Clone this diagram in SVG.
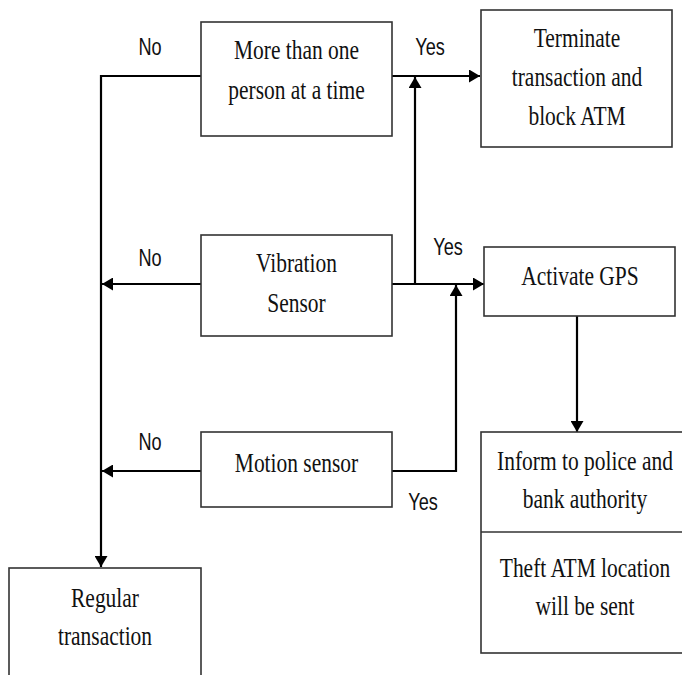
<svg xmlns="http://www.w3.org/2000/svg" width="682" height="675" viewBox="0 0 682 675">
<style>
.box{fill:#fff;stroke:#333;stroke-width:1.6}
.t{font-family:"Liberation Serif","Times New Roman",serif;font-size:26.5px;fill:#111;text-anchor:middle}
.l{font-family:"Liberation Sans",Arial,sans-serif;font-size:24.5px;fill:#111;text-anchor:middle}
.c{fill:none;stroke:#000;stroke-width:2.2}
</style>
<defs>
<marker id="ah" markerUnits="userSpaceOnUse" markerWidth="12" markerHeight="13" refX="11" refY="6.5" orient="auto">
<path d="M0,0 L11,6.5 L0,13 z" fill="#000"/>
</marker>
</defs>
<rect width="682" height="675" fill="#fff"/>
<g id="connectors">
<path class="c" d="M201,76 H101 V567" marker-end="url(#ah)"/>
<path class="c" d="M201,284 H102" marker-end="url(#ah)"/>
<path class="c" d="M201,471 H102" marker-end="url(#ah)"/>
<path class="c" d="M392,76 H480" marker-end="url(#ah)"/>
<path class="c" d="M392,284 H484" marker-end="url(#ah)"/>
<path class="c" d="M415,284 V77" marker-end="url(#ah)"/>
<path class="c" d="M392,471 H456 V285" marker-end="url(#ah)"/>
<path class="c" d="M577,316 V432" marker-end="url(#ah)"/>
</g>
<g id="labels">
<text class="l" transform="translate(150,55) scale(0.74,1)">No</text>
<text class="l" transform="translate(430,55) scale(0.74,1)">Yes</text>
<text class="l" transform="translate(150,266) scale(0.74,1)">No</text>
<text class="l" transform="translate(448,255) scale(0.74,1)">Yes</text>
<text class="l" transform="translate(150,450) scale(0.74,1)">No</text>
<text class="l" transform="translate(423,510) scale(0.74,1)">Yes</text>
</g>
<g id="n-more">
<rect class="box" x="201" y="22" width="191" height="114"/>
<text class="t" transform="translate(296.5,59) scale(0.81,1)">More than one</text>
<text class="t" transform="translate(296.5,99) scale(0.81,1)">person at a time</text>
</g>
<g id="n-terminate">
<rect class="box" x="481" y="10" width="191" height="137"/>
<text class="t" transform="translate(577,47) scale(0.81,1)">Terminate</text>
<text class="t" transform="translate(577,86) scale(0.81,1)">transaction and</text>
<text class="t" transform="translate(577,125) scale(0.81,1)">block ATM</text>
</g>
<g id="n-vibration">
<rect class="box" x="201" y="235" width="191" height="101"/>
<text class="t" transform="translate(296.5,272) scale(0.81,1)">Vibration</text>
<text class="t" transform="translate(296.5,312) scale(0.81,1)">Sensor</text>
</g>
<g id="n-gps">
<rect class="box" x="484" y="247" width="191" height="69"/>
<text class="t" transform="translate(580,285) scale(0.81,1)">Activate GPS</text>
</g>
<g id="n-motion">
<rect class="box" x="201" y="432" width="191" height="75"/>
<text class="t" transform="translate(296.5,472) scale(0.81,1)">Motion sensor</text>
</g>
<g id="n-inform">
<rect class="box" x="481" y="432" width="210" height="221"/>
<line x1="481" y1="532" x2="691" y2="532" stroke="#333" stroke-width="1.6"/>
<text class="t" transform="translate(585,470) scale(0.81,1)">Inform to police and</text>
<text class="t" transform="translate(585,508) scale(0.81,1)">bank authority</text>
<text class="t" transform="translate(585,577) scale(0.81,1)">Theft ATM location</text>
<text class="t" transform="translate(585,615) scale(0.81,1)">will be sent</text>
</g>
<g id="n-regular">
<rect class="box" x="9" y="568" width="192" height="120"/>
<text class="t" transform="translate(105,607) scale(0.81,1)">Regular</text>
<text class="t" transform="translate(105,645) scale(0.81,1)">transaction</text>
</g>
</svg>
